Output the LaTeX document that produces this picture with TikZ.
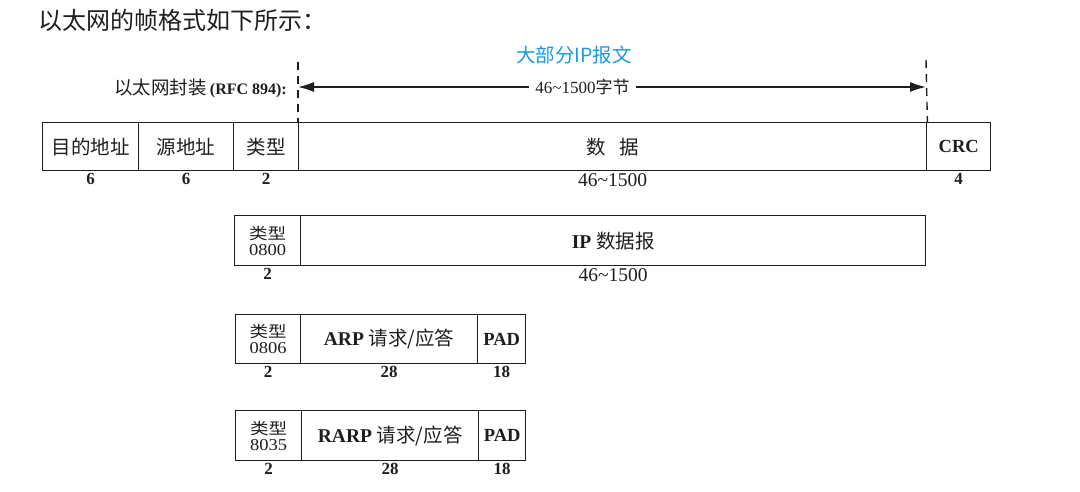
\documentclass[tikz,border=0pt]{standalone}
\usepackage{fontspec}
\setmainfont{Liberation Serif}
\newfontfamily\cjk{Noto Sans CJK SC}
\newcommand\zh[1]{{\cjk #1}}
\newcommand\typetext[1]{\scalebox{1}[0.85]{\zh{类型}}\\[-1pt]\scalebox{1}[0.9]{#1}}
\usetikzlibrary{arrows.meta,positioning}
\definecolor{ink}{RGB}{30,30,30}
\definecolor{ipblue}{RGB}{20,155,225}
\tikzset{
  field/.style={draw=ink, line width=1.4pt, rectangle, anchor=north west, inner sep=0pt,
    text=ink, font=\fontsize{19.5}{21}\selectfont},
  typefield/.style={field, align=center, font=\fontsize{18.5}{17}\selectfont},
  padfield/.style={field, font=\bfseries\fontsize{18.5}{20}\selectfont},
  numlbl/.style={below=1pt of #1, inner sep=1pt, text=ink, font=\bfseries\fontsize{17}{19}\selectfont},
  lenlbl/.style={below=1pt of #1, inner sep=1pt, text=ink, font=\fontsize{19.5}{21}\selectfont},
  dashline/.style={draw=ink, line width=1.4pt, dash pattern=on 8pt off 6pt},
  mytip/.tip={Latex[length=16pt,width=10pt]},
}
\begin{document}
\begin{tikzpicture}[x=1pt,y=-1pt]
\useasboundingbox (0,0) rectangle (1080,492);

% title
\node[anchor=west, text=ink, inner sep=0pt, font=\cjk\fontsize{24}{26}\selectfont] (title) at (38,20) {以太网的帧格式如下所示：};
\node[text=ipblue, inner sep=0pt, font=\cjk\fontsize{19.5}{21}\selectfont] (most) at (574,55) {大部分IP报文};

% main frame
\node[field, minimum width=96pt, minimum height=48pt] (dst) at (42,122) {\zh{目的地址}};
\node[field, minimum width=95pt, minimum height=48pt] (src) at (138,122) {\zh{源地址}};
\node[field, minimum width=65pt, minimum height=48pt] (typ) at (233,122) {\zh{类型}};
\node[field, minimum width=628pt, minimum height=48pt] (data) at (298,122) {\zh{数\hspace{13pt}据}\hspace{20pt}};
\node[padfield, minimum width=64pt, minimum height=48pt] (crc) at (926,122) {CRC};
\node[numlbl=dst] (ndst) {6};
\node[numlbl=src] (nsrc) {6};
\node[numlbl=typ] (ntyp) {2};
\node[lenlbl=data] (ndata) {46\textasciitilde1500};
\node[numlbl=crc] (ncrc) {4};

% encapsulation marks
\coordinate (d1top) at (298,62);
\coordinate (d2top) at (926,60);
\draw[dashline] (d1top) -- (data.north west);
\draw[dashline] (d2top) -- (data.north east);
\coordinate (al) at (298,87);
\coordinate (ar) at (926,87);
\draw[draw=ink, line width=1.4pt, mytip-mytip] (al) -- node[pos=0.453, fill=white, inner sep=6pt, text=ink, font=\fontsize{17}{19}\selectfont] (bytes) {46\textasciitilde1500\zh{字节}} (ar);
\node[anchor=east, text=ink, inner sep=0pt, font=\fontsize{18.5}{20}\selectfont] (encap) at (287,88) {\zh{以太网封装}\hspace{3pt}{\bfseries\fontsize{16}{18}\selectfont(RFC 894):}};

% IP datagram
\node[typefield, minimum width=66pt, minimum height=50pt] (iptyp) at (234,215) {\typetext{0800}};
\node[field, minimum width=625pt, minimum height=50pt] (ip) at (300,215) {\textbf{IP} \zh{数据报}\hspace{20pt}};
\node[numlbl=iptyp] (niptyp) {2};
\node[lenlbl=ip] (nip) {46\textasciitilde1500};

% ARP
\node[typefield, minimum width=65pt, minimum height=49pt] (arptyp) at (235,314) {\typetext{0806}};
\node[field, minimum width=177pt, minimum height=49pt] (arp) at (300,314) {\textbf{ARP} \zh{请求/应答}};
\node[padfield, minimum width=48pt, minimum height=49pt] (arppad) at (477,314) {PAD};
\node[numlbl=arptyp] (narptyp) {2};
\node[numlbl=arp] (narp) {28};
\node[numlbl=arppad] (narppad) {18};

% RARP
\node[typefield, minimum width=66pt, minimum height=50pt] (rarptyp) at (235,410) {\typetext{8035}};
\node[field, minimum width=177pt, minimum height=50pt] (rarp) at (301,410) {\textbf{RARP} \zh{请求/应答}};
\node[padfield, minimum width=47pt, minimum height=50pt] (rarppad) at (478,410) {PAD};
\node[numlbl=rarptyp] (nrarptyp) {2};
\node[numlbl=rarp] (nrarp) {28};
\node[numlbl=rarppad] (nrarppad) {18};
\end{tikzpicture}
\end{document}
